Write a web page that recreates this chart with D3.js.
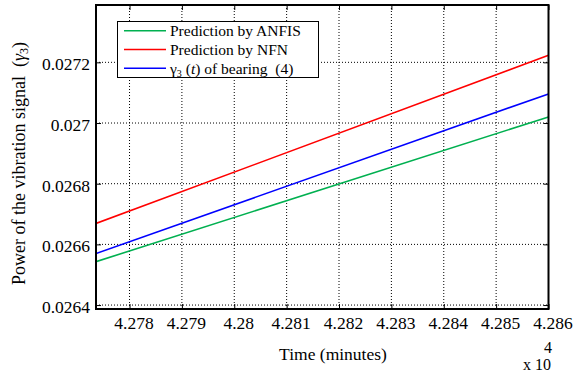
<!DOCTYPE html>
<html><head><meta charset="utf-8">
<script src="https://cdn.jsdelivr.net/npm/d3@7"></script>
<style>
html,body{margin:0;padding:0;background:#fff;}
svg{display:block;}
</style></head>
<body>
<svg id="chart" width="588" height="376"></svg>
<script>
// ---- data ----
const xDomain = [42773.6, 42860];
const yDomain = [0.026387, 0.027389];
const xTicks = [42780, 42790, 42800, 42810, 42820, 42830, 42840, 42850, 42860];
const xTickLabels = ["4.278","4.279","4.28","4.281","4.282","4.283","4.284","4.285","4.286"];
const yTicks = [0.0264, 0.0266, 0.0268, 0.0270, 0.0272];
const yTickLabels = ["0.0264","0.0266","0.0268","0.027","0.0272"];
const timeX = [42773.6, 42860];
const anfis = [0.026543, 0.027020];
const nfn = [0.026669, 0.027223];
const bearing = [0.026570, 0.027096];
const seriesNames = ["Prediction by ANFIS", "Prediction by NFN", "bearing"];
const seriesColors = ["#00b050", "#ff0000", "#0000ff"];

// ---- layout ----
const FONT = "'Liberation Serif', 'Times New Roman', serif";
const L = 96, R = 548.5, T = 5, B = 309;
const svg = d3.select("#chart");
const x = d3.scaleLinear().domain(xDomain).range([L, R]);
const y = d3.scaleLinear().domain(yDomain).range([B, T]);

svg.append("rect").attr("x", 0).attr("y", 0).attr("width", 588).attr("height", 376).attr("fill", "#fff");

// grid
const grid = svg.append("g");
grid.selectAll("line.gx").data(xTicks).join("line")
  .attr("x1", d => x(d)).attr("x2", d => x(d)).attr("y1", T).attr("y2", B)
  .attr("stroke", "#000").attr("stroke-width", 1).attr("stroke-dasharray", "1,2");
grid.selectAll("line.gy").data(yTicks).join("line")
  .attr("x1", L).attr("x2", R).attr("y1", d => y(d)).attr("y2", d => y(d))
  .attr("stroke", "#000").attr("stroke-width", 1).attr("stroke-dasharray", "1,2");

// axes via d3 axis (inward ticks)
const xAxis = d3.axisBottom(x).tickValues(xTicks).tickSizeInner(-5).tickSizeOuter(0)
  .tickFormat((d, i) => xTickLabels[i]);
const gx = svg.append("g").attr("transform", `translate(0,${B})`).call(xAxis);
gx.select(".domain").remove();
gx.selectAll("text").attr("y", 20).attr("dy", 0).attr("dx", 4)
  .style("font-size", "17.5px").style("font-family", FONT).attr("fill", "#000");
gx.selectAll("line").attr("stroke", "#000");

const xAxisTop = d3.axisTop(x).tickValues(xTicks).tickSizeInner(-5).tickSizeOuter(0).tickFormat("");
const gxt = svg.append("g").attr("transform", `translate(0,${T})`).call(xAxisTop);
gxt.select(".domain").remove();

const yAxis = d3.axisLeft(y).tickValues(yTicks).tickSizeInner(-5).tickSizeOuter(0)
  .tickFormat((d, i) => yTickLabels[i]).tickPadding(6);
const gy = svg.append("g").attr("transform", `translate(${L},0)`).call(yAxis);
gy.select(".domain").remove();
gy.selectAll("text").attr("dy", 7.5)
  .style("font-size", "17.5px").style("font-family", FONT).attr("fill", "#000");

const yAxisR = d3.axisRight(y).tickValues(yTicks).tickSizeInner(-5).tickSizeOuter(0).tickFormat("");
const gyr = svg.append("g").attr("transform", `translate(${R},0)`).call(yAxisR);
gyr.select(".domain").remove();

// lines
const data = [anfis, nfn, bearing];
const line = d3.line().x((d, i) => x(timeX[i])).y(d => y(d));
svg.append("clipPath").attr("id", "clip").append("rect")
  .attr("x", L).attr("y", T).attr("width", R - L).attr("height", B - T);
svg.append("g").attr("clip-path", "url(#clip)").selectAll("path").data(data).join("path")
  .attr("d", d => line(d)).attr("fill", "none")
  .attr("stroke", (d, i) => seriesColors[i]).attr("stroke-width", 1.6);

// box
svg.append("rect").attr("x", L).attr("y", T).attr("width", R - L).attr("height", B - T)
  .attr("fill", "none").attr("stroke", "#000").attr("stroke-width", 2);

// legend
const lg = svg.append("g");
lg.append("rect").attr("x", 117.5).attr("y", 21.5).attr("width", 201).attr("height", 56)
  .attr("fill", "#fff").attr("stroke", "#000").attr("stroke-width", 1);
const rowsY = [30.7, 49.5, 68.3];
const baseY = [36.3, 55.2, 74.0];
seriesNames.forEach((n, i) => {
  lg.append("line").attr("x1", 124).attr("x2", 166).attr("y1", rowsY[i]).attr("y2", rowsY[i])
    .attr("stroke", seriesColors[i]).attr("stroke-width", 1.6);
  const t = lg.append("text").attr("x", 170).attr("y", baseY[i])
    .style("font-size", "15.5px").style("font-family", FONT).attr("fill", "#000");
  if (i < 2) {
    t.text(n);
  } else {
    t.append("tspan").text("γ");
    t.append("tspan").style("font-size", "10px").attr("dy", 3).text("3");
    t.append("tspan").attr("dy", -3).text(" (");
    t.append("tspan").style("font-style", "italic").text("t");
    t.append("tspan").text(") of bearing\u00a0 (4)");
  }
});

// axis labels
svg.append("text").attr("x", 333).attr("y", 360).attr("text-anchor", "middle")
  .style("font-size", "17.5px").style("font-family", FONT).attr("fill", "#000").text("Time (minutes)");
svg.append("text").attr("x", 537).attr("y", 369.5).attr("text-anchor", "middle")
  .style("font-size", "16px").style("font-family", FONT).attr("fill", "#000").text("x 10");
svg.append("text").attr("x", 548).attr("y", 352.5).attr("text-anchor", "middle")
  .style("font-size", "16px").style("font-family", FONT).attr("fill", "#000").text("4");

const yl = svg.append("text").attr("transform", "translate(25,163.5) rotate(-90)")
  .attr("text-anchor", "middle").style("font-size", "18px").style("font-family", FONT).attr("fill", "#000");
yl.append("tspan").text("Power of the vibration signal\u00a0 (");
yl.append("tspan").style("font-style", "italic").text("γ");
yl.append("tspan").style("font-size", "12px").attr("dy", 3).text("3");
yl.append("tspan").attr("dy", -3).text(")");
</script>
</body></html>
